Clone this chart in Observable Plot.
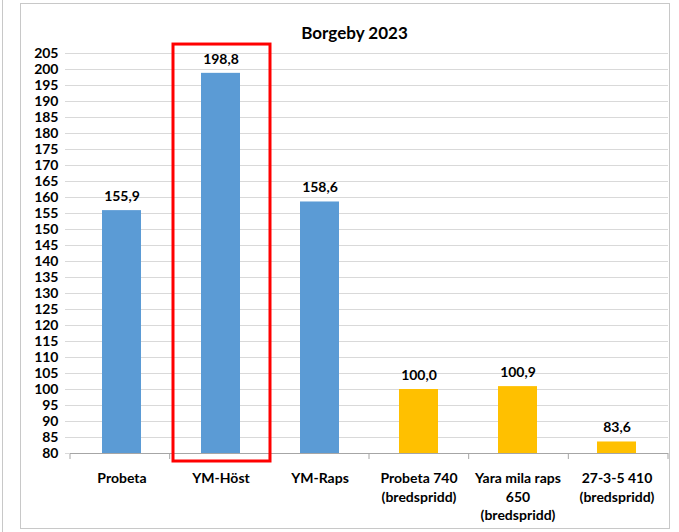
<!DOCTYPE html>
<html>
<head>
<meta charset="utf-8">
<script src="https://cdn.jsdelivr.net/npm/d3@7"></script>
<script src="https://cdn.jsdelivr.net/npm/@observablehq/plot@0.6"></script>
<style>
  html, body { margin: 0; padding: 0; background: #fff; }
  #wrap { position: relative; width: 679px; height: 532px; overflow: hidden; }
  #frame { position: absolute; left: 20px; top: 3px; width: 648px; height: 524px; border: 1px solid #c8c8c8; box-sizing: content-box; }
  #leftline { position: absolute; left: 2px; top: 0; width: 1px; height: 532px; background: #c8c8c8; }
  #chart { position: absolute; left: 0; top: 0; }
</style>
</head>
<body>
<div id="wrap">
  <div id="leftline"></div>
  <div id="frame"></div>
  <div id="chart"></div>
</div>
<script>
const title = "Borgeby 2023";
const categories = ["Probeta", "YM-Höst", "YM-Raps", "Probeta 740", "Yara mila raps 650", "27-3-5 410"];
const tickLabels = ["Probeta", "YM-Höst", "YM-Raps", "Probeta 740\n(bredspridd)", "Yara mila raps\n650\n(bredspridd)", "27-3-5 410\n(bredspridd)"];
const values = [155.9, 198.8, 158.6, 100.0, 100.9, 83.6];
const groups = ["A", "A", "A", "B", "B", "B"];
const groupColors = ["#5b9bd5", "#ffc000"];
const highlighted = ["YM-Höst"];
const yMin = 80, yMax = 205, yStep = 5;
const yTicks = d3.range(yMin, yMax + 1, yStep);

const data = categories.map((c, i) => ({cat: c, value: values[i], group: groups[i]}));
const fmt = v => v.toFixed(1).replace(".", ",");
const font = "Lato, 'Liberation Sans', sans-serif";

const bandTicks = () => (index, scales, values, dims) => {
  const g = d3.create("svg:g");
  const left = dims.marginLeft, right = dims.width - dims.marginRight;
  const n = categories.length;
  const y0 = scales.y(yMin);
  for (let i = 0; i <= n; i++) {
    const x = left + (right - left) * i / n;
    g.append("line").attr("x1", x).attr("x2", x).attr("y1", y0).attr("y2", y0 + 6)
      .attr("stroke", "#a6a6a6").attr("stroke-width", 1);
  }
  return g.node();
};

const chart = Plot.plot({
  width: 679,
  height: 532,
  marginLeft: 70,
  marginRight: 11,
  marginTop: 53,
  marginBottom: 79,
  style: {fontFamily: font, fontWeight: "bold", fontSize: "14px", color: "#000", background: "transparent"},
  x: {domain: categories, padding: 0, label: null},
  y: {domain: [yMin, yMax], label: null},
  color: {domain: ["A", "B"], range: groupColors},
  marks: [
    Plot.gridY(yTicks, {stroke: "#d9d9d9", strokeOpacity: 1, strokeWidth: 1}),
    Plot.ruleX([0], {frameAnchor: "left", y1: yMin, y2: yMax, stroke: "#d9d9d9"}),
    Plot.barY(data, {x: "cat", y1: yMin, y2: "value", fill: "group", insetLeft: 30, insetRight: 30}),
    Plot.ruleY([yMin], {stroke: "#a6a6a6", strokeWidth: 1}),
    bandTicks(),
    Plot.text(data, {x: "cat", y: "value", text: d => fmt(d.value), dy: -14, fontSize: 14, fontWeight: "bold", fill: "#000"}),
    Plot.axisY({ticks: yTicks, tickSize: 5, tickPadding: 7, stroke: "#d9d9d9", fontSize: 14, fontWeight: "bold", fill: "#000"}),
    Plot.axisX({tickSize: 0, tickPadding: 17, tickFormat: (d) => tickLabels[categories.indexOf(d)], lineHeight: 1.3, fontSize: 14, fontWeight: "bold", fill: "#000", lineAnchor: "top"}),
    Plot.barY(highlighted, {x: d => d, y1: 77.5, y2: 207.8, fill: "none", stroke: "#ff0000", strokeWidth: 3, insetLeft: 2, insetRight: 0}),
    Plot.text([title], {frameAnchor: "top", dx: -15, dy: -27, fontSize: 17, fontWeight: "bold", fill: "#000", fontFamily: font})
  ]
});
document.getElementById("chart").appendChild(chart);
</script>
</body>
</html>
